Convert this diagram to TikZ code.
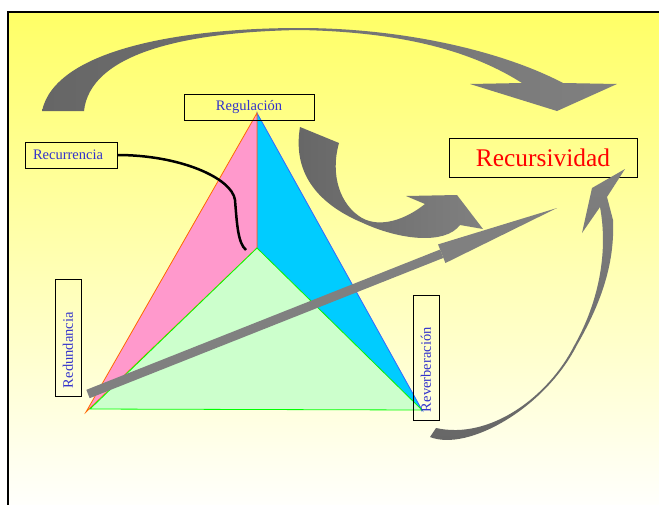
\documentclass[tikz,border=0pt]{standalone}
\usepackage{fontspec}
\setmainfont{Liberation Serif}
\usepackage{xcolor}
\definecolor{rcyellow}{RGB}{255,255,102}
\definecolor{rcdark}{RGB}{102,102,102}
\definecolor{rcgray}{RGB}{128,128,128}
\definecolor{rcpink}{RGB}{255,153,204}
\definecolor{rccyan}{RGB}{0,204,255}
\definecolor{rcmint}{RGB}{204,255,204}
\definecolor{rcorange}{RGB}{255,102,0}
\definecolor{rcedgeblue}{RGB}{51,102,255}
\definecolor{rcgreen}{RGB}{0,255,0}
\definecolor{rcblue}{RGB}{51,51,204}
\definecolor{rcred}{RGB}{255,0,0}
\usetikzlibrary{arrows.meta}
\tikzset{
  lbl/.style={draw=black, line width=0.8pt, font=\fontsize{14.5}{16}\selectfont,
              text=rcblue, minimum height=26pt, inner ysep=0pt},
  vlbl/.style={lbl, rotate=90, inner xsep=8pt, text width=#1, align=left},
  face/.style={fill=#1, line width=0.8pt},
  ribbon/.style={left color=rcdark, right color=rcgray},
}

\begin{document}
\begin{tikzpicture}[x=1pt, y=-1pt]

\useasboundingbox (0,0) rectangle (659,504);
\clip (0,0) rectangle (659,504);

% Slide background
\shade[top color=rcyellow, middle color=rcyellow!42!white, bottom color=white] (8,12) rectangle (670,515);
\draw[line width=2pt] (8,12) rectangle (670,515);

% Triangle corners
\coordinate (apex) at (257,113);
\coordinate (hub) at (257,248);
\coordinate (bl) at (86,412);
\coordinate (gl) at (90,409);
\coordinate (br) at (422,410);

% Triangle faces
\filldraw[face=rccyan, draw=rcedgeblue] (apex) -- (hub) -- (br) -- cycle;
\filldraw[face=rcpink, draw=rcorange] (apex) -- (bl) -- (hub) -- cycle;
\filldraw[face=rcmint, draw=rcgreen] (hub) -- (gl) -- (br) -- cycle;

% Labels
\node[lbl, minimum width=130pt] (reg) at (249,107) {Regulación};
\node[lbl, inner xsep=8pt, text width=76pt, align=left] (recur) at (71,155) {Recurrencia};
\node[vlbl=101pt] (redund) at (68,337.5) {Redundancia};
\node[vlbl=109pt] (reverb) at (426,357.5) {Reverberación};
\node[lbl, minimum width=188pt, minimum height=39pt, text=rcred,
      font=\fontsize{25.4}{28}\selectfont] (recurs) at (543,157.5) {Recursividad};

% Recurrencia pointer
\coordinate (hubend) at (246,250);
\draw[line width=2.5pt] (recur.east) .. controls (180,155) and (232,178) .. (235,200)
  .. controls (237,225) and (238,243) .. (hubend);

% Big arc over the top
\shade[ribbon] (42,111) .. controls (55,50) and (180,28) .. (300,28)
  .. controls (400,28) and (500,50) .. (563,83) -- (617,84) -- (557,111) -- (470,84) -- (522,83)
  .. controls (470,50) and (400,32) .. (300,30) .. controls (180,32) and (90,55) .. (84,111) -- cycle;

% Hook arrow below Regulacion
\shade[ribbon] (300,127) -- (339,143) .. controls (330,175) and (340,205) .. (362,218)
  .. controls (380,228) and (405,220) .. (425,204) -- (406,196) -- (457,195) -- (483,229) -- (460,225)
  .. controls (445,245) and (400,240) .. (363,223) .. controls (320,205) and (292,175) .. (300,127) -- cycle;

% Ribbon rising on the right
\shade[bottom color=rcdark, top color=rcgray] (436,428) -- (430,437)
  .. controls (468,452) and (545,408) .. (577,345) .. controls (600,305) and (615,265) .. (613,220)
  -- (607,197) -- (625,169) -- (592,188) -- (582,233) -- (600,207)
  .. controls (608,250) and (600,300) .. (574,346) .. controls (548,397) and (490,440) .. (436,428) -- cycle;

% Straight arrow across the triangle
\coordinate (ray-tail) at (88,394);
\coordinate (ray-tip) at (557,208);
\draw[rcgray, line width=9pt, -{Triangle[length=124pt, width=20pt, line width=0pt]}] (ray-tail) -- (ray-tip);

\end{tikzpicture}
\end{document}
